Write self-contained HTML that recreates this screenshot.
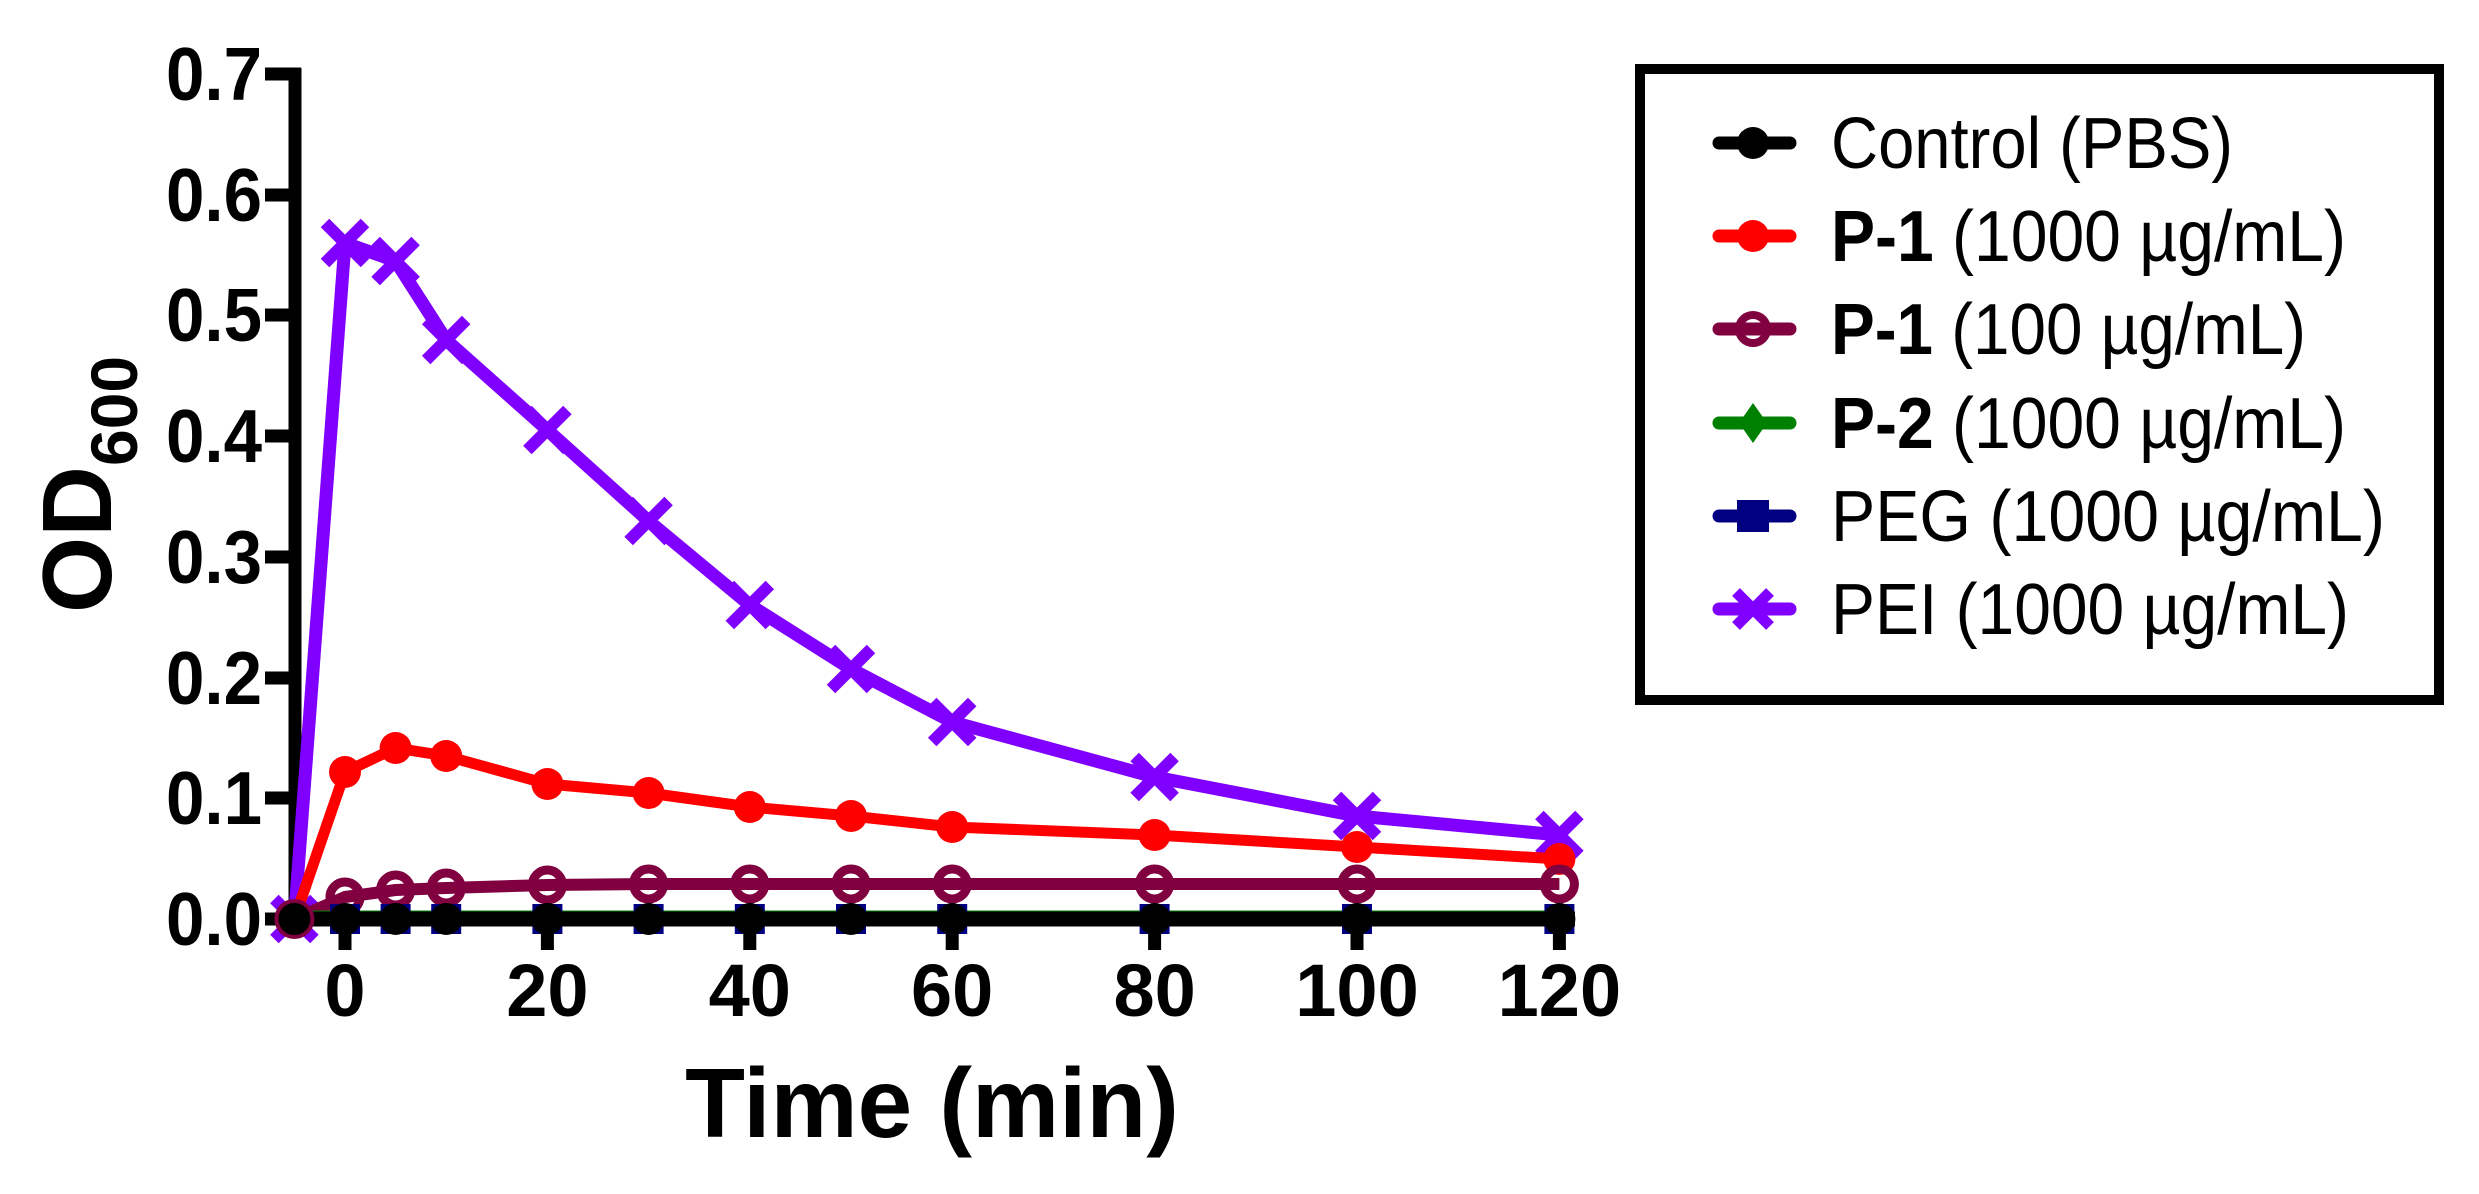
<!DOCTYPE html>
<html><head><meta charset="utf-8"><style>html,body{margin:0;padding:0;background:#fff}svg{display:block}</style></head>
<body>
<svg width="2479" height="1194" viewBox="0 0 2479 1194" xmlns="http://www.w3.org/2000/svg" font-family="Liberation Sans, Arial, sans-serif">
<rect width="2479" height="1194" fill="#fff"/>
<g stroke="#000" stroke-width="13" fill="none">
<line x1="295" y1="68" x2="295" y2="925"/>
<line x1="265" y1="74" x2="301" y2="74"/>
<line x1="265" y1="195" x2="301" y2="195"/>
<line x1="265" y1="315" x2="301" y2="315"/>
<line x1="265" y1="436" x2="301" y2="436"/>
<line x1="265" y1="557" x2="301" y2="557"/>
<line x1="265" y1="678" x2="301" y2="678"/>
<line x1="265" y1="798" x2="301" y2="798"/>
<line x1="265" y1="919" x2="301" y2="919"/>
<line x1="345" y1="912" x2="345" y2="950"/>
<line x1="547.4" y1="912" x2="547.4" y2="950"/>
<line x1="749.8" y1="912" x2="749.8" y2="950"/>
<line x1="952.2" y1="912" x2="952.2" y2="950"/>
<line x1="1154.6" y1="912" x2="1154.6" y2="950"/>
<line x1="1357" y1="912" x2="1357" y2="950"/>
<line x1="1559.4" y1="912" x2="1559.4" y2="950"/>
</g>
<g font-weight="bold" font-size="75" text-anchor="end" fill="#000">
<text x="262" y="100" textLength="96" lengthAdjust="spacingAndGlyphs">0.7</text>
<text x="262" y="221" textLength="96" lengthAdjust="spacingAndGlyphs">0.6</text>
<text x="262" y="341" textLength="96" lengthAdjust="spacingAndGlyphs">0.5</text>
<text x="262" y="462" textLength="96" lengthAdjust="spacingAndGlyphs">0.4</text>
<text x="262" y="583" textLength="96" lengthAdjust="spacingAndGlyphs">0.3</text>
<text x="262" y="704" textLength="96" lengthAdjust="spacingAndGlyphs">0.2</text>
<text x="262" y="824" textLength="96" lengthAdjust="spacingAndGlyphs">0.1</text>
<text x="262" y="945" textLength="96" lengthAdjust="spacingAndGlyphs">0.0</text>
</g>
<g font-weight="bold" font-size="74" text-anchor="middle" fill="#000">
<text x="345" y="1016">0</text>
<text x="547.4" y="1016">20</text>
<text x="749.8" y="1016">40</text>
<text x="952.2" y="1016">60</text>
<text x="1154.6" y="1016">80</text>
<text x="1357" y="1016">100</text>
<text x="1559.4" y="1016">120</text>
</g>
<text x="932" y="1137" font-weight="bold" font-size="98" text-anchor="middle">Time (min)</text>
<g transform="translate(111,613) rotate(-90)">
<text x="0" y="0" font-weight="bold" font-size="98">OD<tspan font-size="66" dy="26">600</tspan></text>
</g>
<polyline fill="none" stroke="#8000ff" stroke-width="13" stroke-linejoin="round" points="294.4,919 345,243 395.6,261 446.2,340 547.4,430 648.6,521 749.8,605 851,669 952.2,722 1154.6,777 1357,816 1559.4,835"/>
<g stroke="#8000ff" stroke-width="12">
<path d="M325,223l40,40M365,223l-40,40"/>
<path d="M375.6,241l40,40M415.6,241l-40,40"/>
<path d="M426.2,320l40,40M466.2,320l-40,40"/>
<path d="M527.4,410l40,40M567.4,410l-40,40"/>
<path d="M628.6,501l40,40M668.6,501l-40,40"/>
<path d="M729.8,585l40,40M769.8,585l-40,40"/>
<path d="M831,649l40,40M871,649l-40,40"/>
<path d="M932.2,702l40,40M972.2,702l-40,40"/>
<path d="M1134.6,757l40,40M1174.6,757l-40,40"/>
<path d="M1337,796l40,40M1377,796l-40,40"/>
<path d="M1539.4,815l40,40M1579.4,815l-40,40"/>
<path d="M274.4,899l40,40M314.4,899l-40,40"/>
</g>
<polyline fill="none" stroke="#ff0000" stroke-width="11" stroke-linejoin="round" points="294.4,919 345,772 395.6,748 446.2,756 547.4,784 648.6,793 749.8,807 851,816 952.2,827 1154.6,835 1357,847 1559.4,859"/>
<g fill="#ff0000">
<circle cx="345" cy="772" r="16"/><circle cx="395.6" cy="748" r="16"/><circle cx="446.2" cy="756" r="16"/><circle cx="547.4" cy="784" r="16"/><circle cx="648.6" cy="793" r="16"/><circle cx="749.8" cy="807" r="16"/><circle cx="851" cy="816" r="16"/><circle cx="952.2" cy="827" r="16"/><circle cx="1154.6" cy="835" r="16"/><circle cx="1357" cy="847" r="16"/><circle cx="1559.4" cy="859" r="16"/>
</g>
<polyline fill="none" stroke="#800040" stroke-width="12" stroke-linejoin="round" points="294.4,919 345,897 395.6,890 446.2,888 547.4,885 648.6,884 749.8,884 851,884 952.2,884 1154.6,884 1357,884 1559.4,884"/>
<g fill="none" stroke="#800040" stroke-width="9">
<circle cx="345" cy="897" r="15"/><circle cx="395.6" cy="890" r="15"/><circle cx="446.2" cy="888" r="15"/><circle cx="547.4" cy="885" r="15"/><circle cx="648.6" cy="884" r="15"/><circle cx="749.8" cy="884" r="15"/><circle cx="851" cy="884" r="15"/><circle cx="952.2" cy="884" r="15"/><circle cx="1154.6" cy="884" r="15"/><circle cx="1357" cy="884" r="15"/><circle cx="1559.4" cy="884" r="15"/>
</g>
<line x1="294" y1="912" x2="1560" y2="912" stroke="#008000" stroke-width="3"/>
<g fill="#000080">
<rect x="330" y="904" width="30" height="30"/><rect x="380.6" y="904" width="30" height="30"/><rect x="431.2" y="904" width="30" height="30"/><rect x="532.4" y="904" width="30" height="30"/><rect x="633.6" y="904" width="30" height="30"/><rect x="734.8" y="904" width="30" height="30"/><rect x="836" y="904" width="30" height="30"/><rect x="937.2" y="904" width="30" height="30"/><rect x="1139.6" y="904" width="30" height="30"/><rect x="1342" y="904" width="30" height="30"/><rect x="1544.4" y="904" width="30" height="30"/>
</g>
<line x1="294.4" y1="919" x2="1575" y2="919" stroke="#000" stroke-width="15"/>
<g fill="#000">
<circle cx="294.4" cy="919" r="17"/><circle cx="345" cy="919" r="16"/><circle cx="395.6" cy="919" r="16"/><circle cx="446.2" cy="919" r="16"/><circle cx="547.4" cy="919" r="16"/><circle cx="648.6" cy="919" r="16"/><circle cx="749.8" cy="919" r="16"/><circle cx="851" cy="919" r="16"/><circle cx="952.2" cy="919" r="16"/><circle cx="1154.6" cy="919" r="16"/><circle cx="1357" cy="919" r="16"/><circle cx="1559.4" cy="919" r="16"/>
</g>
<circle cx="294.4" cy="919" r="18" fill="none" stroke="#800040" stroke-width="4"/>
<rect x="1640" y="69" width="799" height="631" fill="none" stroke="#000" stroke-width="10"/>
<g stroke-width="13" stroke-linecap="round">
<line x1="1719" y1="143" x2="1790" y2="143" stroke="#000"/>
<line x1="1719" y1="236" x2="1790" y2="236" stroke="#ff0000"/>
<line x1="1719" y1="329" x2="1790" y2="329" stroke="#800040"/>
<line x1="1719" y1="423" x2="1790" y2="423" stroke="#008000"/>
<line x1="1719" y1="516" x2="1790" y2="516" stroke="#000080"/>
<line x1="1719" y1="609" x2="1790" y2="609" stroke="#8000ff"/>
</g>
<circle cx="1753" cy="143" r="16" fill="#000"/>
<circle cx="1753" cy="236" r="16" fill="#ff0000"/>
<circle cx="1753" cy="329" r="14" fill="none" stroke="#800040" stroke-width="8"/>
<path d="M1753,403l14,20l-14,20l-14,-20z" fill="#008000"/>
<rect x="1737" y="500" width="32" height="32" fill="#000080"/>
<path d="M1736,592l34,34M1770,592l-34,34" stroke="#8000ff" stroke-width="11"/>
<g font-size="72" fill="#000">
<text x="1831" y="168" textLength="402" lengthAdjust="spacingAndGlyphs">Control (PBS)</text>
<text x="1831" y="261" textLength="515" lengthAdjust="spacingAndGlyphs"><tspan font-weight="bold">P-1</tspan> (1000 µg/mL)</text>
<text x="1831" y="354" textLength="475" lengthAdjust="spacingAndGlyphs"><tspan font-weight="bold">P-1</tspan> (100 µg/mL)</text>
<text x="1831" y="448" textLength="515" lengthAdjust="spacingAndGlyphs"><tspan font-weight="bold">P-2</tspan> (1000 µg/mL)</text>
<text x="1831" y="541" textLength="554" lengthAdjust="spacingAndGlyphs">PEG (1000 µg/mL)</text>
<text x="1831" y="634" textLength="518" lengthAdjust="spacingAndGlyphs">PEI (1000 µg/mL)</text>
</g>
</svg>
</body></html>
